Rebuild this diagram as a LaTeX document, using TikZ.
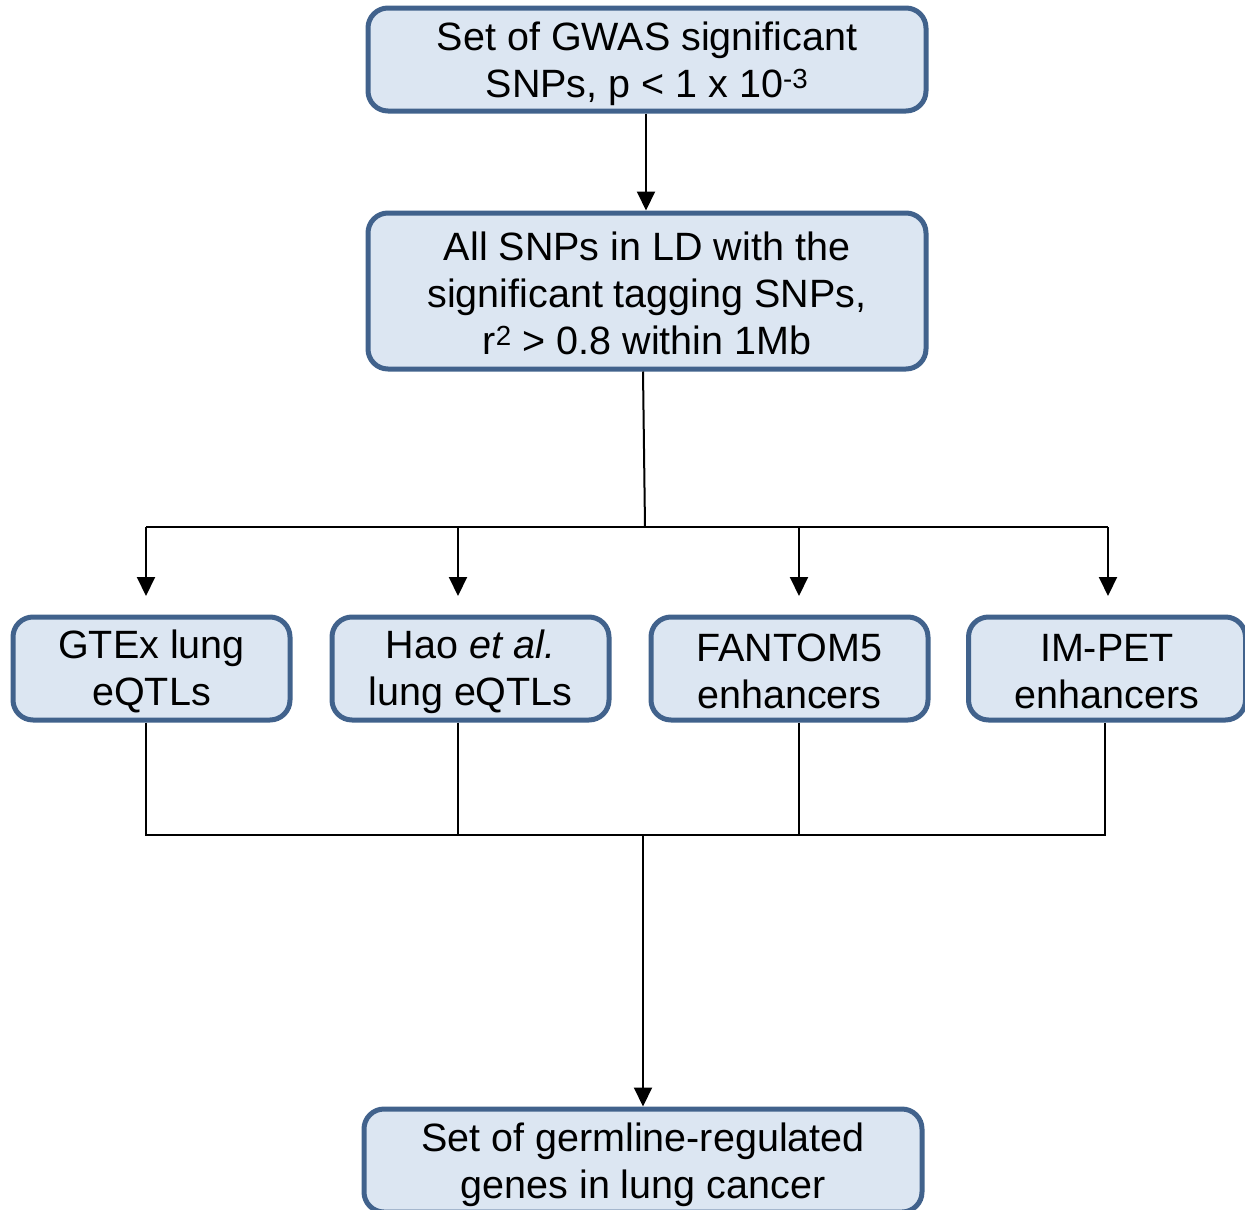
\documentclass[tikz,border=0pt]{standalone}
\usepackage{fontspec}
\setmainfont{Liberation Sans}
\usetikzlibrary{arrows.meta}
\definecolor{boxborder}{RGB}{65,98,140}
\definecolor{boxfill}{RGB}{220,230,242}
\newcommand{\lowtext}[3]{\raisebox{-#1}[\height][\depth]{\parbox{#2}{\centering #3}}}
\begin{document}
\begin{tikzpicture}[x=1pt,y=-1pt,
  box/.style={draw=boxborder, fill=boxfill, line width=5pt, rounded corners=20pt,
    align=center, inner sep=0pt, font=\fontsize{39.5}{47}\selectfont},
  wide/.style={box, minimum width=558pt},
  small/.style={box, minimum width=277pt, minimum height=103pt},
  conn/.style={line width=2pt, draw=black},
  arr/.style={conn, -{Triangle[width=18pt,length=19pt]}}]
\useasboundingbox (0,0) rectangle (1245,1210);
\clip (0,0) rectangle (1245,1210);
\node[wide, minimum height=103pt] (top) at (647,59.5) {\lowtext{4pt}{558pt}{Set of GWAS significant\\SNPs, p < 1 x 10\textsuperscript{-3}}};
\node[wide, minimum height=156pt] (ld) at (647,291) {\lowtext{2pt}{558pt}{All SNPs in LD with the\\significant tagging SNPs,\\r\textsuperscript{2} > 0.8 within 1Mb}};
\node[small] (gtex) at (151.5,668.5) {\lowtext{3pt}{277pt}{GTEx lung\\eQTLs}};
\node[small] (hao) at (470.5,668.5) {\lowtext{3pt}{277pt}{Hao \textit{et al.}\\lung eQTLs}};
\node[small] (fantom) at (789.5,668.5) {\lowtext{3pt}{277pt}{FANTOM5\\enhancers}};
\node[small] (impet) at (1107,668.5) {\lowtext{3pt}{277pt}{IM-PET\\enhancers}};
\node[wide, minimum height=103pt] (out) at (643,1160.5) {\lowtext{4pt}{558pt}{Set of germline-regulated\\genes in lung cancer}};
% split
\coordinate (s) at (645,527);
\coordinate (s1) at (146,527);
\coordinate (s2) at (458,527);
\coordinate (s3) at (799,527);
\coordinate (s4) at (1108,527);
\coordinate (t1) at (146,596);
\coordinate (t2) at (458,596);
\coordinate (t3) at (799,596);
\coordinate (t4) at (1108,596);
% merge
\coordinate (m1) at (146,835);
\coordinate (m2) at (458,835);
\coordinate (m3) at (799,835);
\coordinate (m4) at (1105,835);
\coordinate (m) at (643,835);
\draw[arr] (top.south -| 646,0) -- (ld.north -| 646,0);
\draw[conn] (ld.south -| 643,0) -- (s);
\draw[conn] (s1) -- (s4);
\draw[arr] (s1) -- (t1);
\draw[arr] (s2) -- (t2);
\draw[arr] (s3) -- (t3);
\draw[arr] (s4) -- (t4);
\draw[conn] (gtex.south -| m1) -- (m1) -- (m4) -- (impet.south -| m4);
\draw[conn] (hao.south -| m2) -- (m2);
\draw[conn] (fantom.south -| m3) -- (m3);
\draw[arr] (m) -- (out.north -| m);
\end{tikzpicture}
\end{document}
